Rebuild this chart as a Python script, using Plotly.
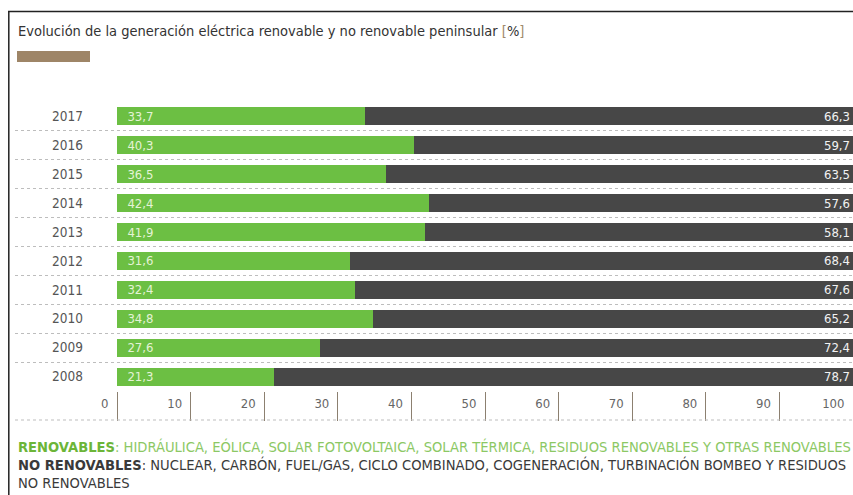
import plotly.graph_objects as go

# ---- data ----
years = ["2017", "2016", "2015", "2014", "2013", "2012", "2011", "2010", "2009", "2008"]
renovables = [33.7, 40.3, 36.5, 42.4, 41.9, 31.6, 32.4, 34.8, 27.6, 21.3]
no_renovables = [66.3, 59.7, 63.5, 57.6, 58.1, 68.4, 67.6, 65.2, 72.4, 78.7]
x_ticks = [0, 10, 20, 30, 40, 50, 60, 70, 80, 90, 100]

title_text = ("Evolución de la generación eléctrica renovable y no renovable peninsular "
              "<span style='color:#a08a6c'>[</span>%<span style='color:#a08a6c'>]</span>")
foot1 = ("<b>RENOVABLES</b><span style='color:#8cc864'>: HIDRÁULICA, EÓLICA, SOLAR FOTOVOLTAICA, "
         "SOLAR TÉRMICA, RESIDUOS RENOVABLES Y OTRAS RENOVABLES</span>")
foot2 = ("<b>NO RENOVABLES</b>: NUCLEAR, CARBÓN, FUEL/GAS, CICLO COMBINADO, COGENERACIÓN, "
         "TURBINACIÓN BOMBEO Y RESIDUOS")
foot3 = "NO RENOVABLES"

FONT = "Liberation Sans Narrow, DejaVu Sans Condensed, Arial Narrow, sans-serif"
GREEN = "#6cbf43"
GREY = "#474747"

W, H = 853, 495
PLOT_LEFT, PLOT_TOP, PLOT_BOTTOM = 15, 102, 391   # page pixels
L, R = PLOT_LEFT, 0
T = PLOT_TOP
B = H - PLOT_BOTTOM
plot_h = H - T - B
plot_w = W - L - R


def py(page_y):
    return (PLOT_BOTTOM - page_y) / plot_h


def px(page_x):
    return (page_x - L) / plot_w


fig = go.Figure()
fig.add_trace(go.Bar(
    y=years, x=renovables, orientation="h", marker=dict(color=GREEN, line=dict(width=0)),
    texttemplate="\u00a0\u00a0%{x:.1f}", textposition="inside", insidetextanchor="start",
    textfont=dict(family=FONT, size=13, color="#e4f3d6"), constraintext="none",
    name="Renovables", showlegend=False))
fig.add_trace(go.Bar(
    y=years, x=no_renovables, orientation="h", marker=dict(color=GREY, line=dict(width=0)),
    texttemplate="%{x:.1f}", textposition="inside", insidetextanchor="end",
    textfont=dict(family=FONT, size=13, color="#f2f2f2"), constraintext="none",
    name="No renovables", showlegend=False))

zero_page = 117
unit = (W - R - zero_page) / 100.0
x_left = -(zero_page - PLOT_LEFT) / unit

fig.update_layout(
    width=W, height=H, barmode="stack", bargap=0.38,
    margin=dict(l=L, r=R, t=T, b=B, pad=0),
    paper_bgcolor="white", plot_bgcolor="white",
    separators=", ",
    font=dict(family=FONT, size=13, color="#555555"),
    xaxis=dict(range=[x_left, 100], tickvals=x_ticks, ticks="outside", ticklen=29,
               tickcolor="#8c8070", tickwidth=1, ticklabelposition="outside left",
               ticklabelshift=-8, ticklabelstandoff=0, showgrid=False, zeroline=False,
               showline=False, tickfont=dict(family=FONT, size=13, color="#666666")),
    yaxis=dict(type="category", categoryorder="array", categoryarray=years,
               autorange="reversed", tickson="boundaries", showgrid=True,
               gridcolor="#bdbdbd", griddash="dot", gridwidth=1, ticks="",
               ticklabelposition="inside", ticklabelstandoff=34, zeroline=False,
               showline=False, tickfont=dict(family=FONT, size=13.5, color="#555555")),
)

# bottom dotted line of the axis row
fig.add_shape(type="line", xref="paper", yref="paper", x0=0, x1=1, y0=py(420), y1=py(420),
              line=dict(color="#bdbdbd", width=1, dash="dot"))
# frame lines (left and top)
fig.add_shape(type="line", xref="paper", yref="paper", x0=px(8.8), x1=px(8.8), y0=py(11), y1=py(500),
              line=dict(color="#222222", width=1.5))
fig.add_shape(type="line", xref="paper", yref="paper", x0=px(8), x1=1.0, y0=py(11.5), y1=py(11.5),
              line=dict(color="#222222", width=1.5))
# brown accent bar
fig.add_shape(type="rect", xref="paper", yref="paper", x0=px(17), x1=px(90), y0=py(62), y1=py(51),
              line=dict(width=0), fillcolor="#9e8567")

fig.add_annotation(text=title_text, xref="paper", yref="paper", x=px(16), y=py(31),
                   xanchor="left", yanchor="middle", showarrow=False,
                   font=dict(family=FONT, size=14.5, color="#333333"))
fig.add_annotation(text=foot1, xref="paper", yref="paper", x=px(16), y=py(446),
                   xanchor="left", yanchor="middle", showarrow=False,
                   font=dict(family=FONT, size=14.6, color="#6cb538"))
fig.add_annotation(text=foot2, xref="paper", yref="paper", x=px(16), y=py(464),
                   xanchor="left", yanchor="middle", showarrow=False,
                   font=dict(family=FONT, size=14.6, color="#3a3a3a"))
fig.add_annotation(text=foot3, xref="paper", yref="paper", x=px(16), y=py(482),
                   xanchor="left", yanchor="middle", showarrow=False,
                   font=dict(family=FONT, size=14.6, color="#3a3a3a"))

fig.write_html("out.html", config={"displayModeBar": False},
               post_script="document.body.style.margin='0';document.body.style.overflow='hidden';")
